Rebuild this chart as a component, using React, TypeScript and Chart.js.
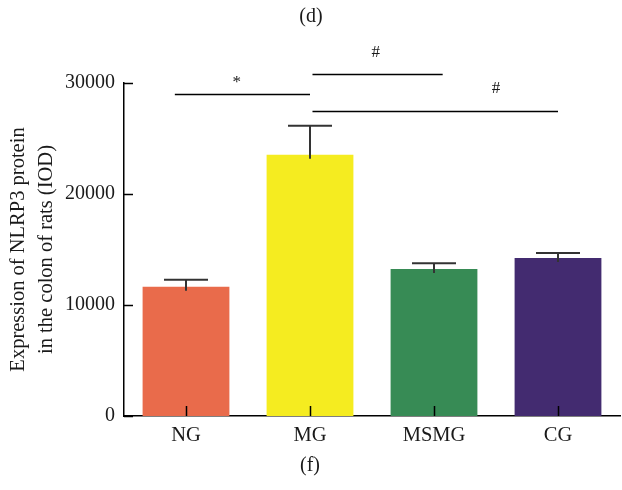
import { useEffect, useRef } from "react";
import { Chart, registerables } from "chart.js";

Chart.register(...registerables);

const categories = ["NG", "MG", "MSMG", "CG"];
const means = [11650, 23540, 13240, 14230];
const errors = [630, 2610, 520, 450];
const barColors = ["#E96B4B", "#F5EC20", "#378B55", "#432B70"];
const yTicks = [0, 10000, 20000, 30000];
const yTitle = ["Expression of NLRP3 protein", "in the colon of rats (IOD)"];
const sigFrom = [-0.09, 1.02, 1.02];
const sigTo = [1.0, 2.07, 3.0];
const sigLineY = [29010, 30810, 27480];
const sigLabel = ["*", "#", "#"];
const sigLabelX = [0.41, 1.53, 2.5];
const sigLabelY = [30000, 32700, 29460];
const panelTop = "(d)";
const panelBottom = "(f)";

const FONT = "'Liberation Serif', 'Times New Roman', serif";
const INK = "#1a1a1a";

const overlay = {
  id: "overlay",
  afterDatasetsDraw(chart: any) {
    const { ctx, scales } = chart;
    const x = scales.x;
    const y = scales.y;
    ctx.save();
    ctx.strokeStyle = "#333";
    ctx.lineWidth = 2;
    for (let i = 0; i < means.length; i++) {
      const px = x.getPixelForValue(i);
      const yTop = y.getPixelForValue(means[i] + errors[i]);
      const yBar = y.getPixelForValue(means[i]);
      ctx.beginPath();
      ctx.moveTo(px, yTop);
      ctx.lineTo(px, yBar + 4);
      ctx.stroke();
      ctx.beginPath();
      ctx.moveTo(px - 22, yTop);
      ctx.lineTo(px + 22, yTop);
      ctx.stroke();
    }
    ctx.restore();
  },
  afterDraw(chart: any) {
    const { ctx, scales, chartArea, width } = chart;
    const x = scales.x;
    const y = scales.y;
    ctx.save();
    ctx.strokeStyle = "#000";
    ctx.lineWidth = 1.5;
    for (const t of yTicks) {
      const py = Math.round(y.getPixelForValue(t)) + 0.5;
      ctx.beginPath();
      ctx.moveTo(chartArea.left, py);
      ctx.lineTo(chartArea.left + 9, py);
      ctx.stroke();
    }
    for (let i = 0; i < categories.length; i++) {
      const px = Math.round(x.getPixelForValue(i)) + 0.5;
      ctx.beginPath();
      ctx.moveTo(px, chartArea.bottom);
      ctx.lineTo(px, chartArea.bottom - 10);
      ctx.stroke();
    }
    ctx.lineWidth = 1.5;
    ctx.fillStyle = INK;
    ctx.textAlign = "center";
    ctx.textBaseline = "middle";
    ctx.font = `17px ${FONT}`;
    for (let i = 0; i < sigLabel.length; i++) {
      const py = Math.round(y.getPixelForValue(sigLineY[i])) + 0.5;
      ctx.beginPath();
      ctx.moveTo(x.getPixelForValue(sigFrom[i]), py);
      ctx.lineTo(x.getPixelForValue(sigTo[i]), py);
      ctx.stroke();
      ctx.fillText(sigLabel[i], x.getPixelForValue(sigLabelX[i]), y.getPixelForValue(sigLabelY[i]));
    }
    ctx.font = `20px ${FONT}`;
    ctx.fillText(panelTop, width / 2, 17);
    ctx.fillText(panelBottom, x.getPixelForValue(1), 466);
    ctx.restore();
  },
};

export default function App() {
  const ref = useRef<HTMLCanvasElement | null>(null);
  useEffect(() => {
    if (!ref.current) return;
    const chart = new Chart(ref.current, {
      type: "bar",
      data: {
        labels: categories,
        datasets: [
          {
            data: means,
            backgroundColor: barColors,
            borderWidth: 0,
            categoryPercentage: 1,
            barPercentage: 0.7,
          },
        ],
      },
      options: {
        animation: false,
        responsive: false,
        devicePixelRatio: 1,
        layout: { padding: { top: 83, right: 2, bottom: 0, left: 0 } },
        plugins: { legend: { display: false }, tooltip: { enabled: false } },
        scales: {
          x: {
            grid: { display: false, drawTicks: false },
            border: { display: true, color: "#000", width: 1.5 },
            ticks: { color: INK, font: { family: FONT, size: 20.5 }, padding: 7 },
            afterFit: (s: any) => {
              s.height = 74;
            },
          },
          y: {
            min: 0,
            max: 30000,
            afterBuildTicks: (s: any) => {
              s.ticks = yTicks.map((v) => ({ value: v }));
            },
            grid: { display: false, drawTicks: false },
            border: { display: true, color: "#000", width: 1.5 },
            ticks: {
              color: INK,
              font: { family: FONT, size: 20 },
              padding: 9,
              callback: (v: any) => String(v),
            },
            title: {
              display: true,
              text: yTitle,
              color: INK,
              font: { family: FONT, size: 20.5, lineHeight: 1.38 },
              padding: { top: 4, bottom: 0 },
            },
            afterFit: (s: any) => {
              s.width = 124;
            },
          },
        },
      },
      plugins: [overlay],
    });
    return () => chart.destroy();
  }, []);
  return (
    <div style={{ position: "absolute", left: 0, top: 0, width: 622, height: 490, background: "#fff" }}>
      <canvas ref={ref} width={622} height={490} />
    </div>
  );
}
